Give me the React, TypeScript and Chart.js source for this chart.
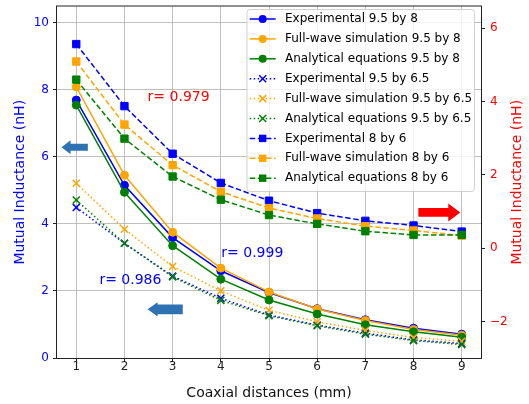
import React, { useEffect, useRef } from "react";
import { Chart, registerables } from "chart.js";

Chart.register(...registerables);

// ---------- data ----------
const distances = [1, 2, 3, 4, 5, 6, 7, 8, 9];

const exp95by8 = [7.69, 5.15, 3.59, 2.6, 1.95, 1.47, 1.14, 0.89, 0.71];
const full95by8 = [8.08, 5.45, 3.75, 2.68, 1.97, 1.46, 1.12, 0.85, 0.68];
const anal95by8 = [7.54, 4.94, 3.35, 2.35, 1.73, 1.31, 0.99, 0.78, 0.62];

const exp95by65 = [4.49, 3.42, 2.44, 1.78, 1.28, 0.98, 0.74, 0.54, 0.43];
const full95by65 = [5.21, 3.84, 2.73, 2.0, 1.42, 1.08, 0.82, 0.61, 0.5];
const anal95by65 = [4.71, 3.42, 2.42, 1.72, 1.26, 0.96, 0.71, 0.52, 0.4];

const exp8by6 = [9.36, 7.51, 6.09, 5.22, 4.69, 4.32, 4.09, 3.95, 3.77];
const full8by6 = [8.84, 6.96, 5.75, 4.96, 4.47, 4.16, 3.93, 3.8, 3.65];
const anal8by6 = [8.3, 6.54, 5.41, 4.72, 4.26, 4.0, 3.78, 3.67, 3.67];

const xTicks = [1, 2, 3, 4, 5, 6, 7, 8, 9];
const leftTicks = [0, 2, 4, 6, 8, 10];
const rightTicks = [-2, 0, 2, 4, 6];

const labels = [
  "Experimental 9.5 by 8",
  "Full-wave simulation 9.5 by 8",
  "Analytical equations 9.5 by 8",
  "Experimental 9.5 by 6.5",
  "Full-wave simulation 9.5 by 6.5",
  "Analytical equations 9.5 by 6.5",
  "Experimental 8 by 6",
  "Full-wave simulation 8 by 6",
  "Analytical equations 8 by 6",
];
const seriesValues = [
  exp95by8, full95by8, anal95by8,
  exp95by65, full95by65, anal95by65,
  exp8by6, full8by6, anal8by6,
];

const correlations = [
  { text: "r= 0.979", x: 2.48, y: 7.76, color: "#ff0000" },
  { text: "r= 0.999", x: 4.01, y: 3.12, color: "#0000ff" },
  { text: "r= 0.986", x: 1.48, y: 2.32, color: "#0000ff" },
];

// arrows: tip/tail in x data units, y in left-axis data units
const arrows = [
  { tip: 0.694, tail: 1.24, y: 6.28, head: 9, headHalf: 7, tailHalf: 3.5, color: "#2f72b3" },
  { tip: 2.48, tail: 3.21, y: 1.45, head: 10, headHalf: 7.2, tailHalf: 4.8, color: "#2f72b3" },
  { tip: 8.97, tail: 8.1, y: 4.34, head: 12, headHalf: 9, tailHalf: 4.4, color: "#ff0000" },
];

// ---------- styles ----------
const BLUE = "#0000ff";
const ORANGE = "#ffa500";
const GREEN = "#008000";
const colors = [BLUE, ORANGE, GREEN, BLUE, ORANGE, GREEN, BLUE, ORANGE, GREEN];
const lineKinds = ["solid", "solid", "solid", "dotted", "dotted", "dotted", "dashed", "dashed", "dashed"];
const markers = ["circle", "circle", "circle", "x", "x", "x", "square", "square", "square"];

const FONT = "'DejaVu Sans', sans-serif";

function dashFor(kind: string): number[] {
  if (kind === "dotted") return [1.5, 2.5];
  if (kind === "dashed") return [5.5, 2.6];
  return [];
}

function drawMarker(ctx: CanvasRenderingContext2D, kind: string, x: number, y: number, color: string) {
  ctx.save();
  ctx.setLineDash([]);
  ctx.fillStyle = color;
  ctx.strokeStyle = color;
  if (kind === "circle") {
    ctx.beginPath();
    ctx.arc(x, y, 4, 0, Math.PI * 2);
    ctx.fill();
  } else if (kind === "square") {
    ctx.fillRect(x - 3.7, y - 3.7, 7.4, 7.4);
  } else {
    ctx.lineWidth = 1.5;
    const s = 3.5;
    ctx.beginPath();
    ctx.moveTo(x - s, y - s);
    ctx.lineTo(x + s, y + s);
    ctx.moveTo(x - s, y + s);
    ctx.lineTo(x + s, y - s);
    ctx.stroke();
  }
  ctx.restore();
}

function drawArrow(ctx: CanvasRenderingContext2D, tipX: number, tailX: number, cy: number,
  head: number, headHalf: number, tailHalf: number, color: string) {
  const dir = tailX > tipX ? 1 : -1;
  const baseX = tipX + dir * head;
  ctx.save();
  ctx.fillStyle = color;
  ctx.beginPath();
  ctx.moveTo(tipX, cy);
  ctx.lineTo(baseX, cy - headHalf);
  ctx.lineTo(baseX, cy - tailHalf);
  ctx.lineTo(tailX, cy - tailHalf);
  ctx.lineTo(tailX, cy + tailHalf);
  ctx.lineTo(baseX, cy + tailHalf);
  ctx.lineTo(baseX, cy + headHalf);
  ctx.closePath();
  ctx.fill();
  ctx.restore();
}

const overlayPlugin = {
  id: "overlay",
  afterDatasetsDraw(chart: any) {
    const ctx: CanvasRenderingContext2D = chart.ctx;
    const ca = chart.chartArea;
    const xs = chart.scales.x;
    const ys = chart.scales.y;

    // frame
    ctx.save();
    ctx.strokeStyle = "#222";
    ctx.lineWidth = 1;
    ctx.strokeRect(ca.left - 0.5, ca.top - 0.5, ca.right - ca.left + 1, ca.bottom - ca.top + 1);
    ctx.restore();

    // arrows
    arrows.forEach((a) => {
      drawArrow(ctx, xs.getPixelForValue(a.tip), xs.getPixelForValue(a.tail), ys.getPixelForValue(a.y),
        a.head, a.headHalf, a.tailHalf, a.color);
    });

    // correlation texts
    ctx.save();
    ctx.font = `14px ${FONT}`;
    ctx.textAlign = "left";
    ctx.textBaseline = "middle";
    correlations.forEach((c) => {
      ctx.fillStyle = c.color;
      ctx.fillText(c.text, xs.getPixelForValue(c.x), ys.getPixelForValue(c.y));
    });
    ctx.restore();

    // legend
    const boxL = ca.right - 234;
    const boxT = ca.top + 3;
    const boxW = 227.5;
    const boxH = 182;
    ctx.save();
    ctx.fillStyle = "rgba(255,255,255,0.8)";
    ctx.strokeStyle = "rgba(204,204,204,0.9)";
    ctx.lineWidth = 1;
    const r = 3;
    ctx.beginPath();
    ctx.moveTo(boxL + r, boxT);
    ctx.lineTo(boxL + boxW - r, boxT);
    ctx.quadraticCurveTo(boxL + boxW, boxT, boxL + boxW, boxT + r);
    ctx.lineTo(boxL + boxW, boxT + boxH - r);
    ctx.quadraticCurveTo(boxL + boxW, boxT + boxH, boxL + boxW - r, boxT + boxH);
    ctx.lineTo(boxL + r, boxT + boxH);
    ctx.quadraticCurveTo(boxL, boxT + boxH, boxL, boxT + boxH - r);
    ctx.lineTo(boxL, boxT + r);
    ctx.quadraticCurveTo(boxL, boxT, boxL + r, boxT);
    ctx.closePath();
    ctx.fill();
    ctx.stroke();

    ctx.font = `12px ${FONT}`;
    ctx.textAlign = "left";
    ctx.textBaseline = "middle";
    labels.forEach((lab, i) => {
      const yRow = boxT + 9.5 + i * 19.9;
      const x0 = boxL + 2.7;
      const x1 = boxL + 28.7;
      ctx.strokeStyle = colors[i];
      ctx.lineWidth = 1.5;
      ctx.setLineDash(dashFor(lineKinds[i]));
      ctx.beginPath();
      ctx.moveTo(x0, yRow);
      ctx.lineTo(x1, yRow);
      ctx.stroke();
      ctx.setLineDash([]);
      drawMarker(ctx, markers[i], (x0 + x1) / 2, yRow, colors[i]);
      ctx.fillStyle = "#000";
      ctx.fillText(lab, boxL + 38, yRow);
    });
    ctx.restore();

    // right axis title (reads bottom-to-top as in the reference)
    ctx.save();
    ctx.font = `14px ${FONT}`;
    ctx.fillStyle = "#ff0000";
    ctx.textAlign = "center";
    ctx.textBaseline = "middle";
    ctx.translate(chart.width - 12, (ca.top + ca.bottom) / 2);
    ctx.rotate(-Math.PI / 2);
    ctx.fillText("Mutual Inductance (nH)", 0, 0);
    ctx.restore();
  },
};

function noPad(s: any) {
  s.paddingTop = 0;
  s.paddingBottom = 0;
  s.paddingLeft = 0;
  s.paddingRight = 0;
}

export default function App() {
  const canvasRef = useRef<HTMLCanvasElement | null>(null);

  useEffect(() => {
    const canvas = canvasRef.current;
    if (!canvas) return;

    const datasets = labels.map((lab, i) => {
      const m = markers[i];
      return {
        label: lab,
        data: distances.map((x, j) => ({ x, y: seriesValues[i][j] })),
        borderColor: colors[i],
        backgroundColor: colors[i],
        pointBackgroundColor: colors[i],
        pointBorderColor: colors[i],
        borderWidth: 1.5,
        borderDash: dashFor(lineKinds[i]),
        pointStyle: m === "circle" ? "circle" : m === "square" ? "rect" : "crossRot",
        pointRadius: m === "circle" ? 4 : m === "square" ? 5.2 : 5,
        pointBorderWidth: m === "x" ? 1.5 : 1,
        pointHoverRadius: 0,
        tension: 0,
        fill: false,
        order: 9 - i,
        yAxisID: "y",
      };
    });

    const chart = new Chart(canvas, {
      type: "line",
      data: { datasets },
      options: {
        animation: false,
        responsive: false,
        maintainAspectRatio: false,
        layout: { padding: { top: 5, left: 0, right: 0, bottom: 0 } },
        plugins: {
          legend: { display: false },
          tooltip: { enabled: false },
          title: { display: false },
        },
        scales: {
          x: {
            type: "linear",
            position: "bottom",
            min: 0.6,
            max: 9.4,
            afterBuildTicks: (s: any) => { s.ticks = xTicks.map((v) => ({ value: v })); },
            afterFit: (s: any) => { s.height = 46; noPad(s); },
            grid: { color: "#b0b0b0", lineWidth: 0.8, tickLength: 4, tickColor: "#222", tickWidth: 1 },
            border: { display: false },
            ticks: { color: "#222", font: { family: FONT, size: 12 }, padding: -2, maxRotation: 0 },
            title: {
              display: true,
              text: "Coaxial distances (mm)",
              color: "#111",
              font: { family: FONT, size: 14 },
              padding: { top: 0, bottom: 2.6 },
            },
          },
          y: {
            type: "linear",
            position: "left",
            min: 0,
            max: 10.48,
            afterBuildTicks: (s: any) => { s.ticks = leftTicks.map((v) => ({ value: v })); },
            afterFit: (s: any) => { s.width = 57; noPad(s); },
            grid: { color: "#b0b0b0", lineWidth: 0.8, tickLength: 4, tickColor: "#222", tickWidth: 1 },
            border: { display: false },
            ticks: { color: BLUE, font: { family: FONT, size: 12 }, padding: 4 },
            title: {
              display: true,
              text: "Mutual Inductance (nH)",
              color: BLUE,
              font: { family: FONT, size: 14 },
              padding: { top: 12, bottom: 0 },
            },
          },
          y2: {
            type: "linear",
            position: "right",
            min: -2.99,
            max: 6.59,
            afterBuildTicks: (s: any) => { s.ticks = rightTicks.map((v) => ({ value: v })); },
            afterFit: (s: any) => { s.width = 48; noPad(s); },
            grid: { drawOnChartArea: false, tickLength: 4, tickColor: "#222", tickWidth: 1 },
            border: { display: false },
            ticks: {
              color: "#ff0000",
              font: { family: FONT, size: 12 },
              padding: 5,
              callback: (v: any) => String(v).replace("-", "\u2212"),
            },
          },
        },
      },
      plugins: [overlayPlugin],
    });

    return () => chart.destroy();
  }, []);

  return (
    <div style={{ position: "absolute", left: 0, top: 0, width: 529, height: 404, background: "#fff" }}>
      <canvas ref={canvasRef} width={529} height={404} style={{ display: "block", width: 529, height: 404 }} />
    </div>
  );
}
